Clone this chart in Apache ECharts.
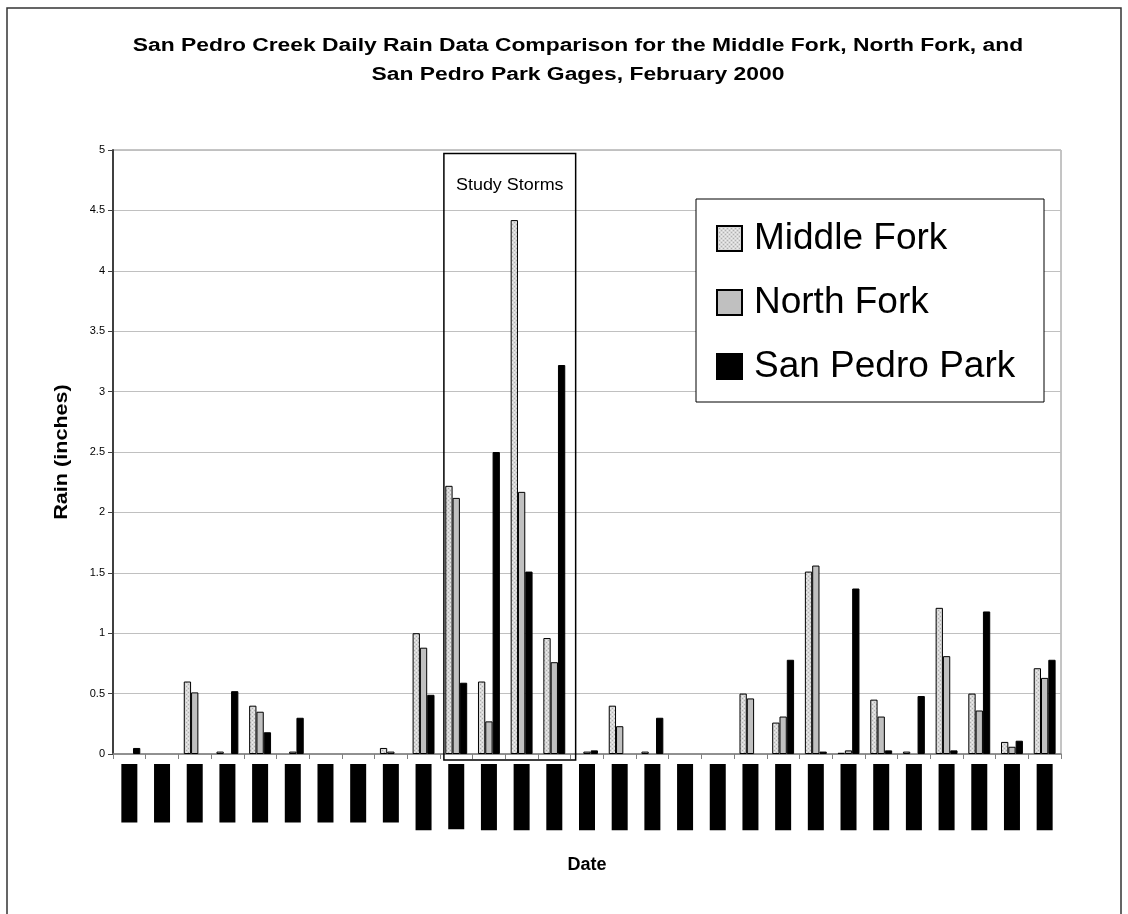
<!DOCTYPE html>
<html>
<head>
<meta charset="utf-8">
<style>
  html, body { margin: 0; padding: 0; background: #fff; }
  #chart { width: 1128px; height: 914px; }
</style>
<script src="https://cdn.jsdelivr.net/npm/echarts@6/dist/echarts.min.js"></script>
</head>
<body>
<div id="chart"></div>
<script>
// Daily rainfall (inches), February 2000
const dates = [];
for (let d = 1; d <= 29; d++) dates.push('2/' + d + '/2000');

const middleFork = [0, 0, 0.60, 0.02, 0.40, 0, 0, 0, 0.05, 1.00, 2.22, 0.60, 4.42, 0.96, 0,
                    0.40, 0.02, 0, 0, 0.50, 0.26, 1.51, 0.01, 0.45, 0.02, 1.21, 0.50, 0.10, 0.71];
const northFork = [0, 0, 0.51, 0, 0.35, 0.02, 0, 0, 0.02, 0.88, 2.12, 0.27, 2.17, 0.76, 0.02,
                   0.23, 0, 0, 0, 0.46, 0.31, 1.56, 0.03, 0.31, 0, 0.81, 0.36, 0.06, 0.63];
const sanPedroPark = [0.05, 0, 0, 0.52, 0.18, 0.30, 0, 0, 0, 0.49, 0.59, 2.50, 1.51, 3.22, 0.03,
                      0, 0.30, 0, 0, 0, 0.78, 0.02, 1.37, 0.03, 0.48, 0.03, 1.18, 0.11, 0.78];

const yTicks = { min: 0, max: 5, interval: 0.5 };
const stormDays = ['2/11/2000', '2/14/2000'];

const FONT = '"Liberation Sans", Arial, sans-serif';

// fine dithered fill for the Middle Fork bars
function ditherPattern() {
  const c = document.createElement('canvas');
  c.width = 4; c.height = 4;
  const g = c.getContext('2d');
  g.fillStyle = '#d8d8d8';
  g.fillRect(0, 0, 4, 4);
  g.fillStyle = '#b0b0b0';
  g.fillRect(0, 0, 1, 1); g.fillRect(2, 2, 1, 1);
  g.fillStyle = '#eeeeee';
  g.fillRect(2, 0, 1, 1); g.fillRect(0, 2, 1, 1);
  return { image: c, repeat: 'repeat' };
}

const noZero = arr => arr.map(v => (v === 0 ? null : v));

const chart = echarts.init(document.getElementById('chart'), null, { renderer: 'canvas' });

const barBase = {
  type: 'bar',
  barGap: '0%',
  barCategoryGap: '33%',
  animation: false
};

chart.setOption({
  animation: false,
  backgroundColor: '#fff',
  textStyle: { fontFamily: FONT },
  grid: {
    left: 113, right: 67, top: 150, bottom: 160,
    show: true, borderColor: '#8a8a8a', borderWidth: 1, backgroundColor: 'transparent'
  },
  legend: {
    orient: 'vertical',
    left: 716, top: 220,
    padding: 0,
    icon: 'rect',
    itemWidth: 25, itemHeight: 25,
    itemGap: 27,
    z: 10,
    textStyle: { fontSize: 37, color: '#000', fontFamily: FONT, lineHeight: 36, padding: [0, 0, 0, 7] },
    data: ['Middle Fork', 'North Fork', 'San Pedro Park']
  },
  xAxis: {
    type: 'category',
    data: dates,
    name: 'Date',
    nameLocation: 'middle',
    nameGap: 102,
    nameTextStyle: { fontSize: 18, fontWeight: 'bold', color: '#000', fontFamily: FONT },
    axisLine: { lineStyle: { color: '#808080', width: 1.5 } },
    axisTick: { show: true, interval: 0, length: 5, lineStyle: { color: '#808080' } },
    axisLabel: {
      interval: 0, rotate: 90, margin: 10,
      fontSize: 14, lineHeight: 16, padding: [0, 2],
      color: '#000', backgroundColor: '#000', fontFamily: FONT
    },
    splitLine: { show: false }
  },
  yAxis: {
    type: 'value',
    min: yTicks.min, max: yTicks.max, interval: yTicks.interval,
    axisLine: { show: true, lineStyle: { color: '#404040', width: 2 } },
    axisTick: { show: true, length: 5, lineStyle: { color: '#404040' } },
    axisLabel: { fontSize: 11, color: '#000', margin: 8, fontFamily: FONT },
    splitLine: { show: true, lineStyle: { color: '#c0c0c0', width: 1 } }
  },
  series: [
    Object.assign({}, barBase, {
      name: 'Middle Fork',
      data: noZero(middleFork),
      itemStyle: { color: ditherPattern(), borderColor: '#000', borderWidth: 1 }
    }),
    Object.assign({}, barBase, {
      name: 'North Fork',
      data: noZero(northFork),
      itemStyle: { color: '#c0c0c0', borderColor: '#000', borderWidth: 1 }
    }),
    Object.assign({}, barBase, {
      name: 'San Pedro Park',
      data: noZero(sanPedroPark),
      itemStyle: { color: '#000', borderColor: '#000', borderWidth: 1 }
    })
  ]
});

// frame, title, axis title, legend box and the study-storm bracket
const i0 = dates.indexOf(stormDays[0]);
const i1 = dates.indexOf(stormDays[1]);
const c0 = chart.convertToPixel({ xAxisIndex: 0 }, i0);
const c1 = chart.convertToPixel({ xAxisIndex: 0 }, i1);
const band = chart.convertToPixel({ xAxisIndex: 0 }, 1) - chart.convertToPixel({ xAxisIndex: 0 }, 0);
const boxLeft = c0 - band / 2 + 4;
const boxRight = c1 + band / 2 + 5;
const boxTop = chart.convertToPixel({ yAxisIndex: 0 }, 4.97);
const boxBottom = chart.convertToPixel({ yAxisIndex: 0 }, 0) + 6;
const yMid = (chart.convertToPixel({ yAxisIndex: 0 }, yTicks.min) + chart.convertToPixel({ yAxisIndex: 0 }, yTicks.max)) / 2;

chart.setOption({
  graphic: [
    {
      type: 'rect', silent: true, z: 0,
      shape: { x: 7, y: 8, width: 1114, height: 1000 },
      style: { fill: 'none', stroke: '#333', lineWidth: 1.5 }
    },
    {
      type: 'text', silent: true, z: 10,
      x: 578, y: 32, scaleX: 1.27,
      style: {
        text: 'San Pedro Creek Daily Rain Data Comparison for the Middle Fork, North Fork, and\nSan Pedro Park Gages, February 2000',
        font: 'bold 18px ' + FONT,
        fill: '#000', align: 'center', lineHeight: 29
      }
    },
    {
      type: 'text', silent: true, z: 10,
      x: 62, y: yMid, rotation: Math.PI / 2, scaleX: 1.2,
      style: {
        text: 'Rain (inches)', font: 'bold 18px ' + FONT,
        fill: '#000', align: 'center', verticalAlign: 'middle'
      }
    },
    {
      type: 'rect', silent: true, z: 5,
      shape: { x: 696, y: 199, width: 348, height: 203 },
      style: { fill: '#fff', stroke: '#000', lineWidth: 1 }
    },
    {
      type: 'rect', silent: true, z: 6,
      shape: { x: boxLeft, y: boxTop, width: boxRight - boxLeft, height: boxBottom - boxTop },
      style: { fill: 'none', stroke: '#000', lineWidth: 1.5 }
    },
    {
      type: 'text', silent: true, z: 6,
      x: (boxLeft + boxRight) / 2, y: boxTop + 32, scaleX: 1.12,
      style: { text: 'Study Storms', font: '16px ' + FONT, fill: '#000', align: 'center', verticalAlign: 'middle' }
    }
  ]
});
</script>
</body>
</html>
